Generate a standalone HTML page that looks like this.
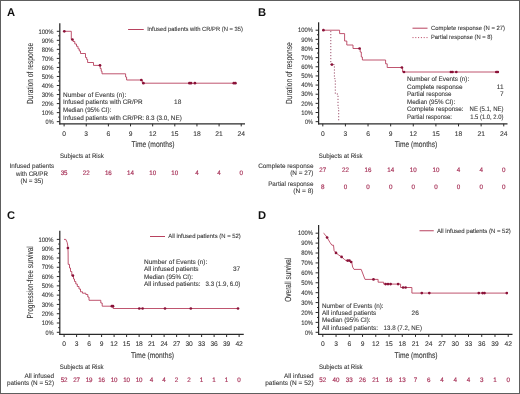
<!DOCTYPE html>
<html><head><meta charset="utf-8"><title>KM curves</title>
<style>
html,body{margin:0;padding:0;background:#fff;}
body{width:520px;height:394px;overflow:hidden;}
svg{display:block;font-family:"Liberation Sans", sans-serif;text-rendering:geometricPrecision;will-change:transform;}
</style></head><body>
<svg width="520" height="394" viewBox="0 0 520 394">
<rect x="0" y="0" width="520" height="394" fill="#fff"/>
<text x="6.90" y="16.00" font-size="11.2" fill="#111" font-weight="bold">A</text>
<line x1="59.80" y1="23.30" x2="59.80" y2="124.40" stroke="#2a2a2a" stroke-width="1.25"/>
<line x1="59.20" y1="123.80" x2="245.00" y2="123.80" stroke="#2a2a2a" stroke-width="1.25"/>
<line x1="56.80" y1="121.65" x2="59.80" y2="121.65" stroke="#2a2a2a" stroke-width="1.0"/>
<text x="53.60" y="123.85" font-size="6.4" fill="#383838" stroke="#383838" stroke-width="0.1" text-anchor="end" textLength="8.00" lengthAdjust="spacingAndGlyphs">0%</text>
<line x1="58.20" y1="117.13" x2="59.80" y2="117.13" stroke="#2a2a2a" stroke-width="1.0"/>
<line x1="56.80" y1="112.62" x2="59.80" y2="112.62" stroke="#2a2a2a" stroke-width="1.0"/>
<text x="53.60" y="114.82" font-size="6.4" fill="#383838" stroke="#383838" stroke-width="0.1" text-anchor="end" textLength="11.80" lengthAdjust="spacingAndGlyphs">10%</text>
<line x1="58.20" y1="108.10" x2="59.80" y2="108.10" stroke="#2a2a2a" stroke-width="1.0"/>
<line x1="56.80" y1="103.58" x2="59.80" y2="103.58" stroke="#2a2a2a" stroke-width="1.0"/>
<text x="53.60" y="105.78" font-size="6.4" fill="#383838" stroke="#383838" stroke-width="0.1" text-anchor="end" textLength="11.80" lengthAdjust="spacingAndGlyphs">20%</text>
<line x1="58.20" y1="99.06" x2="59.80" y2="99.06" stroke="#2a2a2a" stroke-width="1.0"/>
<line x1="56.80" y1="94.55" x2="59.80" y2="94.55" stroke="#2a2a2a" stroke-width="1.0"/>
<text x="53.60" y="96.75" font-size="6.4" fill="#383838" stroke="#383838" stroke-width="0.1" text-anchor="end" textLength="11.80" lengthAdjust="spacingAndGlyphs">30%</text>
<line x1="58.20" y1="90.03" x2="59.80" y2="90.03" stroke="#2a2a2a" stroke-width="1.0"/>
<line x1="56.80" y1="85.51" x2="59.80" y2="85.51" stroke="#2a2a2a" stroke-width="1.0"/>
<text x="53.60" y="87.71" font-size="6.4" fill="#383838" stroke="#383838" stroke-width="0.1" text-anchor="end" textLength="11.80" lengthAdjust="spacingAndGlyphs">40%</text>
<line x1="58.20" y1="80.99" x2="59.80" y2="80.99" stroke="#2a2a2a" stroke-width="1.0"/>
<line x1="56.80" y1="76.48" x2="59.80" y2="76.48" stroke="#2a2a2a" stroke-width="1.0"/>
<text x="53.60" y="78.68" font-size="6.4" fill="#383838" stroke="#383838" stroke-width="0.1" text-anchor="end" textLength="11.80" lengthAdjust="spacingAndGlyphs">50%</text>
<line x1="58.20" y1="71.96" x2="59.80" y2="71.96" stroke="#2a2a2a" stroke-width="1.0"/>
<line x1="56.80" y1="67.44" x2="59.80" y2="67.44" stroke="#2a2a2a" stroke-width="1.0"/>
<text x="53.60" y="69.64" font-size="6.4" fill="#383838" stroke="#383838" stroke-width="0.1" text-anchor="end" textLength="11.80" lengthAdjust="spacingAndGlyphs">60%</text>
<line x1="58.20" y1="62.92" x2="59.80" y2="62.92" stroke="#2a2a2a" stroke-width="1.0"/>
<line x1="56.80" y1="58.41" x2="59.80" y2="58.41" stroke="#2a2a2a" stroke-width="1.0"/>
<text x="53.60" y="60.61" font-size="6.4" fill="#383838" stroke="#383838" stroke-width="0.1" text-anchor="end" textLength="11.80" lengthAdjust="spacingAndGlyphs">70%</text>
<line x1="58.20" y1="53.89" x2="59.80" y2="53.89" stroke="#2a2a2a" stroke-width="1.0"/>
<line x1="56.80" y1="49.37" x2="59.80" y2="49.37" stroke="#2a2a2a" stroke-width="1.0"/>
<text x="53.60" y="51.57" font-size="6.4" fill="#383838" stroke="#383838" stroke-width="0.1" text-anchor="end" textLength="11.80" lengthAdjust="spacingAndGlyphs">80%</text>
<line x1="58.20" y1="44.85" x2="59.80" y2="44.85" stroke="#2a2a2a" stroke-width="1.0"/>
<line x1="56.80" y1="40.34" x2="59.80" y2="40.34" stroke="#2a2a2a" stroke-width="1.0"/>
<text x="53.60" y="42.54" font-size="6.4" fill="#383838" stroke="#383838" stroke-width="0.1" text-anchor="end" textLength="11.80" lengthAdjust="spacingAndGlyphs">90%</text>
<line x1="58.20" y1="35.82" x2="59.80" y2="35.82" stroke="#2a2a2a" stroke-width="1.0"/>
<line x1="56.80" y1="31.30" x2="59.80" y2="31.30" stroke="#2a2a2a" stroke-width="1.0"/>
<text x="53.60" y="33.50" font-size="6.4" fill="#383838" stroke="#383838" stroke-width="0.1" text-anchor="end" textLength="15.00" lengthAdjust="spacingAndGlyphs">100%</text>
<line x1="64.10" y1="123.80" x2="64.10" y2="126.40" stroke="#2a2a2a" stroke-width="1.0"/>
<text x="64.10" y="135.70" font-size="6.7" fill="#383838" stroke="#383838" stroke-width="0.1" text-anchor="middle">0</text>
<line x1="86.24" y1="123.80" x2="86.24" y2="126.40" stroke="#2a2a2a" stroke-width="1.0"/>
<text x="86.24" y="135.70" font-size="6.7" fill="#383838" stroke="#383838" stroke-width="0.1" text-anchor="middle">3</text>
<line x1="108.38" y1="123.80" x2="108.38" y2="126.40" stroke="#2a2a2a" stroke-width="1.0"/>
<text x="108.38" y="135.70" font-size="6.7" fill="#383838" stroke="#383838" stroke-width="0.1" text-anchor="middle">6</text>
<line x1="130.52" y1="123.80" x2="130.52" y2="126.40" stroke="#2a2a2a" stroke-width="1.0"/>
<text x="130.52" y="135.70" font-size="6.7" fill="#383838" stroke="#383838" stroke-width="0.1" text-anchor="middle">9</text>
<line x1="152.66" y1="123.80" x2="152.66" y2="126.40" stroke="#2a2a2a" stroke-width="1.0"/>
<text x="152.66" y="135.70" font-size="6.7" fill="#383838" stroke="#383838" stroke-width="0.1" text-anchor="middle">12</text>
<line x1="174.80" y1="123.80" x2="174.80" y2="126.40" stroke="#2a2a2a" stroke-width="1.0"/>
<text x="174.80" y="135.70" font-size="6.7" fill="#383838" stroke="#383838" stroke-width="0.1" text-anchor="middle">15</text>
<line x1="196.94" y1="123.80" x2="196.94" y2="126.40" stroke="#2a2a2a" stroke-width="1.0"/>
<text x="196.94" y="135.70" font-size="6.7" fill="#383838" stroke="#383838" stroke-width="0.1" text-anchor="middle">18</text>
<line x1="219.08" y1="123.80" x2="219.08" y2="126.40" stroke="#2a2a2a" stroke-width="1.0"/>
<text x="219.08" y="135.70" font-size="6.7" fill="#383838" stroke="#383838" stroke-width="0.1" text-anchor="middle">21</text>
<line x1="241.22" y1="123.80" x2="241.22" y2="126.40" stroke="#2a2a2a" stroke-width="1.0"/>
<text x="241.22" y="135.70" font-size="6.7" fill="#383838" stroke="#383838" stroke-width="0.1" text-anchor="middle">24</text>
<text x="131.60" y="146.60" font-size="8.2" fill="#383838" stroke="#383838" stroke-width="0.12" textLength="42.90" lengthAdjust="spacingAndGlyphs">Time (months)</text>
<text x="33.20" y="73.30" font-size="8.8" fill="#383838" stroke="#383838" stroke-width="0.1" text-anchor="middle" textLength="61.20" lengthAdjust="spacingAndGlyphs" transform="rotate(-90 33.20 73.30)">Duration of response</text>
<line x1="128.10" y1="29.50" x2="143.75" y2="29.50" stroke="#b8425f" stroke-width="1.0"/>
<text x="147.25" y="31.40" font-size="6.0" fill="#383838" stroke="#383838" stroke-width="0.1" textLength="95.75" lengthAdjust="spacingAndGlyphs">Infused patients with CR/PR (N = 35)</text>
<text x="63.00" y="96.80" font-size="6.5" fill="#383838" stroke="#383838" stroke-width="0.1" textLength="63.25" lengthAdjust="spacingAndGlyphs">Number of Events (n):</text>
<text x="63.00" y="104.40" font-size="6.5" fill="#383838" stroke="#383838" stroke-width="0.1" textLength="79.50" lengthAdjust="spacingAndGlyphs">Infused patients with CR/PR</text>
<text x="63.00" y="112.00" font-size="6.5" fill="#383838" stroke="#383838" stroke-width="0.1" textLength="48.25" lengthAdjust="spacingAndGlyphs">Median (95% CI):</text>
<text x="63.00" y="119.60" font-size="6.5" fill="#383838" stroke="#383838" stroke-width="0.1" textLength="118.75" lengthAdjust="spacingAndGlyphs">Infused patients with CR/PR: 8.3 (3.0, NE)</text>
<text x="181.30" y="104.40" font-size="6.5" fill="#383838" stroke="#383838" stroke-width="0.1" text-anchor="end">18</text>
<text x="60.00" y="157.75" font-size="6.5" fill="#383838" stroke="#383838" stroke-width="0.1" textLength="43.75" lengthAdjust="spacingAndGlyphs">Subjects at Risk</text>
<text x="31.90" y="168.10" font-size="6.5" fill="#383838" stroke="#383838" stroke-width="0.1" text-anchor="middle" textLength="44.70" lengthAdjust="spacingAndGlyphs">Infused patients</text>
<text x="31.90" y="175.60" font-size="6.5" fill="#383838" stroke="#383838" stroke-width="0.1" text-anchor="middle" textLength="31.90" lengthAdjust="spacingAndGlyphs">with CR/PR</text>
<text x="31.90" y="182.60" font-size="6.5" fill="#383838" stroke="#383838" stroke-width="0.1" text-anchor="middle" textLength="22.90" lengthAdjust="spacingAndGlyphs">(N = 35)</text>
<text x="64.10" y="175.40" font-size="6.4" fill="#a8345a" stroke="#a8345a" stroke-width="0.18" text-anchor="middle" textLength="6.90" lengthAdjust="spacingAndGlyphs">35</text>
<text x="86.24" y="175.40" font-size="6.4" fill="#a8345a" stroke="#a8345a" stroke-width="0.18" text-anchor="middle" textLength="6.90" lengthAdjust="spacingAndGlyphs">22</text>
<text x="108.38" y="175.40" font-size="6.4" fill="#a8345a" stroke="#a8345a" stroke-width="0.18" text-anchor="middle" textLength="6.90" lengthAdjust="spacingAndGlyphs">16</text>
<text x="130.52" y="175.40" font-size="6.4" fill="#a8345a" stroke="#a8345a" stroke-width="0.18" text-anchor="middle" textLength="6.90" lengthAdjust="spacingAndGlyphs">14</text>
<text x="152.66" y="175.40" font-size="6.4" fill="#a8345a" stroke="#a8345a" stroke-width="0.18" text-anchor="middle" textLength="6.90" lengthAdjust="spacingAndGlyphs">10</text>
<text x="174.80" y="175.40" font-size="6.4" fill="#a8345a" stroke="#a8345a" stroke-width="0.18" text-anchor="middle" textLength="6.90" lengthAdjust="spacingAndGlyphs">10</text>
<text x="196.94" y="175.40" font-size="6.4" fill="#a8345a" stroke="#a8345a" stroke-width="0.18" text-anchor="middle" textLength="3.50" lengthAdjust="spacingAndGlyphs">4</text>
<text x="219.08" y="175.40" font-size="6.4" fill="#a8345a" stroke="#a8345a" stroke-width="0.18" text-anchor="middle" textLength="3.50" lengthAdjust="spacingAndGlyphs">4</text>
<text x="241.22" y="175.40" font-size="6.4" fill="#a8345a" stroke="#a8345a" stroke-width="0.18" text-anchor="middle" textLength="3.50" lengthAdjust="spacingAndGlyphs">0</text>
<path d="M64.1,31.3 H71.3 V39.5 H73 V41.5 H74.8 V44 H76.5 V46.3 H78 V48.8 H79.3 V51 H80.5 V53.5 H85.5 V57.5 H86.7 V59.5 H87.6 V62.5 H93.5 V65.4 H100.2 V68.5 H101.2 V71.2 H102 V73.8 H125.6 V77 H126.6 V80 H142.3 V83.2 H236" fill="none" stroke="#b8425f" stroke-width="0.9"/>
<circle cx="64.30" cy="31.30" r="1.35" fill="#8a1238"/>
<circle cx="72.40" cy="39.50" r="1.35" fill="#8a1238"/>
<circle cx="100.00" cy="65.30" r="1.35" fill="#8a1238"/>
<circle cx="141.30" cy="80.00" r="1.35" fill="#8a1238"/>
<circle cx="143.40" cy="83.20" r="1.35" fill="#8a1238"/>
<circle cx="189.40" cy="83.20" r="1.35" fill="#8a1238"/>
<circle cx="191.00" cy="83.20" r="1.35" fill="#8a1238"/>
<circle cx="194.90" cy="83.20" r="1.35" fill="#8a1238"/>
<circle cx="233.80" cy="83.20" r="1.35" fill="#8a1238"/>
<circle cx="235.40" cy="83.20" r="1.35" fill="#8a1238"/>
<text x="257.90" y="16.00" font-size="11.2" fill="#111" font-weight="bold">B</text>
<line x1="318.60" y1="22.30" x2="318.60" y2="124.40" stroke="#2a2a2a" stroke-width="1.25"/>
<line x1="318.00" y1="123.80" x2="507.50" y2="123.80" stroke="#2a2a2a" stroke-width="1.25"/>
<line x1="315.60" y1="121.65" x2="318.60" y2="121.65" stroke="#2a2a2a" stroke-width="1.0"/>
<text x="313.00" y="123.85" font-size="6.4" fill="#383838" stroke="#383838" stroke-width="0.1" text-anchor="end" textLength="8.00" lengthAdjust="spacingAndGlyphs">0%</text>
<line x1="317.00" y1="117.08" x2="318.60" y2="117.08" stroke="#2a2a2a" stroke-width="1.0"/>
<line x1="315.60" y1="112.51" x2="318.60" y2="112.51" stroke="#2a2a2a" stroke-width="1.0"/>
<text x="313.00" y="114.71" font-size="6.4" fill="#383838" stroke="#383838" stroke-width="0.1" text-anchor="end" textLength="11.80" lengthAdjust="spacingAndGlyphs">10%</text>
<line x1="317.00" y1="107.93" x2="318.60" y2="107.93" stroke="#2a2a2a" stroke-width="1.0"/>
<line x1="315.60" y1="103.36" x2="318.60" y2="103.36" stroke="#2a2a2a" stroke-width="1.0"/>
<text x="313.00" y="105.56" font-size="6.4" fill="#383838" stroke="#383838" stroke-width="0.1" text-anchor="end" textLength="11.80" lengthAdjust="spacingAndGlyphs">20%</text>
<line x1="317.00" y1="98.79" x2="318.60" y2="98.79" stroke="#2a2a2a" stroke-width="1.0"/>
<line x1="315.60" y1="94.22" x2="318.60" y2="94.22" stroke="#2a2a2a" stroke-width="1.0"/>
<text x="313.00" y="96.42" font-size="6.4" fill="#383838" stroke="#383838" stroke-width="0.1" text-anchor="end" textLength="11.80" lengthAdjust="spacingAndGlyphs">30%</text>
<line x1="317.00" y1="89.64" x2="318.60" y2="89.64" stroke="#2a2a2a" stroke-width="1.0"/>
<line x1="315.60" y1="85.07" x2="318.60" y2="85.07" stroke="#2a2a2a" stroke-width="1.0"/>
<text x="313.00" y="87.27" font-size="6.4" fill="#383838" stroke="#383838" stroke-width="0.1" text-anchor="end" textLength="11.80" lengthAdjust="spacingAndGlyphs">40%</text>
<line x1="317.00" y1="80.50" x2="318.60" y2="80.50" stroke="#2a2a2a" stroke-width="1.0"/>
<line x1="315.60" y1="75.93" x2="318.60" y2="75.93" stroke="#2a2a2a" stroke-width="1.0"/>
<text x="313.00" y="78.13" font-size="6.4" fill="#383838" stroke="#383838" stroke-width="0.1" text-anchor="end" textLength="11.80" lengthAdjust="spacingAndGlyphs">50%</text>
<line x1="317.00" y1="71.35" x2="318.60" y2="71.35" stroke="#2a2a2a" stroke-width="1.0"/>
<line x1="315.60" y1="66.78" x2="318.60" y2="66.78" stroke="#2a2a2a" stroke-width="1.0"/>
<text x="313.00" y="68.98" font-size="6.4" fill="#383838" stroke="#383838" stroke-width="0.1" text-anchor="end" textLength="11.80" lengthAdjust="spacingAndGlyphs">60%</text>
<line x1="317.00" y1="62.21" x2="318.60" y2="62.21" stroke="#2a2a2a" stroke-width="1.0"/>
<line x1="315.60" y1="57.64" x2="318.60" y2="57.64" stroke="#2a2a2a" stroke-width="1.0"/>
<text x="313.00" y="59.84" font-size="6.4" fill="#383838" stroke="#383838" stroke-width="0.1" text-anchor="end" textLength="11.80" lengthAdjust="spacingAndGlyphs">70%</text>
<line x1="317.00" y1="53.06" x2="318.60" y2="53.06" stroke="#2a2a2a" stroke-width="1.0"/>
<line x1="315.60" y1="48.49" x2="318.60" y2="48.49" stroke="#2a2a2a" stroke-width="1.0"/>
<text x="313.00" y="50.69" font-size="6.4" fill="#383838" stroke="#383838" stroke-width="0.1" text-anchor="end" textLength="11.80" lengthAdjust="spacingAndGlyphs">80%</text>
<line x1="317.00" y1="43.92" x2="318.60" y2="43.92" stroke="#2a2a2a" stroke-width="1.0"/>
<line x1="315.60" y1="39.35" x2="318.60" y2="39.35" stroke="#2a2a2a" stroke-width="1.0"/>
<text x="313.00" y="41.55" font-size="6.4" fill="#383838" stroke="#383838" stroke-width="0.1" text-anchor="end" textLength="11.80" lengthAdjust="spacingAndGlyphs">90%</text>
<line x1="317.00" y1="34.77" x2="318.60" y2="34.77" stroke="#2a2a2a" stroke-width="1.0"/>
<line x1="315.60" y1="30.20" x2="318.60" y2="30.20" stroke="#2a2a2a" stroke-width="1.0"/>
<text x="313.00" y="32.40" font-size="6.4" fill="#383838" stroke="#383838" stroke-width="0.1" text-anchor="end" textLength="15.00" lengthAdjust="spacingAndGlyphs">100%</text>
<line x1="322.80" y1="123.80" x2="322.80" y2="126.40" stroke="#2a2a2a" stroke-width="1.0"/>
<text x="322.80" y="135.70" font-size="6.7" fill="#383838" stroke="#383838" stroke-width="0.1" text-anchor="middle">0</text>
<line x1="345.42" y1="123.80" x2="345.42" y2="126.40" stroke="#2a2a2a" stroke-width="1.0"/>
<text x="345.42" y="135.70" font-size="6.7" fill="#383838" stroke="#383838" stroke-width="0.1" text-anchor="middle">3</text>
<line x1="368.04" y1="123.80" x2="368.04" y2="126.40" stroke="#2a2a2a" stroke-width="1.0"/>
<text x="368.04" y="135.70" font-size="6.7" fill="#383838" stroke="#383838" stroke-width="0.1" text-anchor="middle">6</text>
<line x1="390.66" y1="123.80" x2="390.66" y2="126.40" stroke="#2a2a2a" stroke-width="1.0"/>
<text x="390.66" y="135.70" font-size="6.7" fill="#383838" stroke="#383838" stroke-width="0.1" text-anchor="middle">9</text>
<line x1="413.28" y1="123.80" x2="413.28" y2="126.40" stroke="#2a2a2a" stroke-width="1.0"/>
<text x="413.28" y="135.70" font-size="6.7" fill="#383838" stroke="#383838" stroke-width="0.1" text-anchor="middle">12</text>
<line x1="435.90" y1="123.80" x2="435.90" y2="126.40" stroke="#2a2a2a" stroke-width="1.0"/>
<text x="435.90" y="135.70" font-size="6.7" fill="#383838" stroke="#383838" stroke-width="0.1" text-anchor="middle">15</text>
<line x1="458.52" y1="123.80" x2="458.52" y2="126.40" stroke="#2a2a2a" stroke-width="1.0"/>
<text x="458.52" y="135.70" font-size="6.7" fill="#383838" stroke="#383838" stroke-width="0.1" text-anchor="middle">18</text>
<line x1="481.14" y1="123.80" x2="481.14" y2="126.40" stroke="#2a2a2a" stroke-width="1.0"/>
<text x="481.14" y="135.70" font-size="6.7" fill="#383838" stroke="#383838" stroke-width="0.1" text-anchor="middle">21</text>
<line x1="503.76" y1="123.80" x2="503.76" y2="126.40" stroke="#2a2a2a" stroke-width="1.0"/>
<text x="503.76" y="135.70" font-size="6.7" fill="#383838" stroke="#383838" stroke-width="0.1" text-anchor="middle">24</text>
<text x="394.80" y="146.60" font-size="8.2" fill="#383838" stroke="#383838" stroke-width="0.12" textLength="42.40" lengthAdjust="spacingAndGlyphs">Time (months)</text>
<text x="291.70" y="73.10" font-size="8.8" fill="#383838" stroke="#383838" stroke-width="0.1" text-anchor="middle" textLength="61.80" lengthAdjust="spacingAndGlyphs" transform="rotate(-90 291.70 73.10)">Duration of response</text>
<line x1="412.50" y1="28.20" x2="427.50" y2="28.20" stroke="#b8425f" stroke-width="1.0"/>
<text x="431.00" y="30.20" font-size="6.0" fill="#383838" stroke="#383838" stroke-width="0.1" textLength="74.00" lengthAdjust="spacingAndGlyphs">Complete response (N = 27)</text>
<line x1="412.50" y1="37.60" x2="427.60" y2="37.60" stroke="#b8425f" stroke-width="1.0" stroke-dasharray="1.0,1.8"/>
<text x="431.00" y="39.40" font-size="6.0" fill="#383838" stroke="#383838" stroke-width="0.1" textLength="61.50" lengthAdjust="spacingAndGlyphs">Partial response (N = 8)</text>
<text x="407.00" y="81.10" font-size="6.5" fill="#383838" stroke="#383838" stroke-width="0.1" textLength="62.20" lengthAdjust="spacingAndGlyphs">Number of Events (n):</text>
<text x="407.00" y="88.60" font-size="6.5" fill="#383838" stroke="#383838" stroke-width="0.1" textLength="55.60" lengthAdjust="spacingAndGlyphs">Complete response</text>
<text x="407.00" y="96.10" font-size="6.5" fill="#383838" stroke="#383838" stroke-width="0.1" textLength="44.50" lengthAdjust="spacingAndGlyphs">Partial response</text>
<text x="407.00" y="103.60" font-size="6.5" fill="#383838" stroke="#383838" stroke-width="0.1" textLength="48.10" lengthAdjust="spacingAndGlyphs">Median (95% CI):</text>
<text x="407.00" y="111.10" font-size="6.5" fill="#383838" stroke="#383838" stroke-width="0.1" textLength="56.60" lengthAdjust="spacingAndGlyphs">Complete response:</text>
<text x="407.00" y="118.50" font-size="6.5" fill="#383838" stroke="#383838" stroke-width="0.1" textLength="45.00" lengthAdjust="spacingAndGlyphs">Partial response:</text>
<text x="503.60" y="88.60" font-size="6.5" fill="#383838" stroke="#383838" stroke-width="0.1" text-anchor="end">11</text>
<text x="503.60" y="96.10" font-size="6.5" fill="#383838" stroke="#383838" stroke-width="0.1" text-anchor="end">7</text>
<text x="469.60" y="111.10" font-size="6.5" fill="#383838" stroke="#383838" stroke-width="0.1" textLength="33.90" lengthAdjust="spacingAndGlyphs">NE (5.1, NE)</text>
<text x="470.20" y="118.50" font-size="6.5" fill="#383838" stroke="#383838" stroke-width="0.1" textLength="33.30" lengthAdjust="spacingAndGlyphs">1.5 (1.0, 2.0)</text>
<text x="318.75" y="157.75" font-size="6.5" fill="#383838" stroke="#383838" stroke-width="0.1" textLength="43.75" lengthAdjust="spacingAndGlyphs">Subjects at Risk</text>
<text x="313.50" y="167.70" font-size="6.5" fill="#383838" stroke="#383838" stroke-width="0.1" text-anchor="end" textLength="55.30" lengthAdjust="spacingAndGlyphs">Complete response</text>
<text x="313.50" y="175.20" font-size="6.5" fill="#383838" stroke="#383838" stroke-width="0.1" text-anchor="end" textLength="23.30" lengthAdjust="spacingAndGlyphs">(N = 27)</text>
<text x="313.50" y="185.60" font-size="6.5" fill="#383838" stroke="#383838" stroke-width="0.1" text-anchor="end" textLength="45.30" lengthAdjust="spacingAndGlyphs">Partial response</text>
<text x="313.50" y="192.60" font-size="6.5" fill="#383838" stroke="#383838" stroke-width="0.1" text-anchor="end" textLength="20.30" lengthAdjust="spacingAndGlyphs">(N = 8)</text>
<text x="322.80" y="171.90" font-size="6.4" fill="#a8345a" stroke="#a8345a" stroke-width="0.18" text-anchor="middle" textLength="6.90" lengthAdjust="spacingAndGlyphs">27</text>
<text x="345.42" y="171.90" font-size="6.4" fill="#a8345a" stroke="#a8345a" stroke-width="0.18" text-anchor="middle" textLength="6.90" lengthAdjust="spacingAndGlyphs">22</text>
<text x="368.04" y="171.90" font-size="6.4" fill="#a8345a" stroke="#a8345a" stroke-width="0.18" text-anchor="middle" textLength="6.90" lengthAdjust="spacingAndGlyphs">16</text>
<text x="390.66" y="171.90" font-size="6.4" fill="#a8345a" stroke="#a8345a" stroke-width="0.18" text-anchor="middle" textLength="6.90" lengthAdjust="spacingAndGlyphs">14</text>
<text x="413.28" y="171.90" font-size="6.4" fill="#a8345a" stroke="#a8345a" stroke-width="0.18" text-anchor="middle" textLength="6.90" lengthAdjust="spacingAndGlyphs">10</text>
<text x="435.90" y="171.90" font-size="6.4" fill="#a8345a" stroke="#a8345a" stroke-width="0.18" text-anchor="middle" textLength="6.90" lengthAdjust="spacingAndGlyphs">10</text>
<text x="458.52" y="171.90" font-size="6.4" fill="#a8345a" stroke="#a8345a" stroke-width="0.18" text-anchor="middle" textLength="3.50" lengthAdjust="spacingAndGlyphs">4</text>
<text x="481.14" y="171.90" font-size="6.4" fill="#a8345a" stroke="#a8345a" stroke-width="0.18" text-anchor="middle" textLength="3.50" lengthAdjust="spacingAndGlyphs">4</text>
<text x="503.76" y="171.90" font-size="6.4" fill="#a8345a" stroke="#a8345a" stroke-width="0.18" text-anchor="middle" textLength="3.50" lengthAdjust="spacingAndGlyphs">0</text>
<text x="322.80" y="189.40" font-size="6.4" fill="#a8345a" stroke="#a8345a" stroke-width="0.18" text-anchor="middle" textLength="3.50" lengthAdjust="spacingAndGlyphs">8</text>
<text x="345.42" y="189.40" font-size="6.4" fill="#a8345a" stroke="#a8345a" stroke-width="0.18" text-anchor="middle" textLength="3.50" lengthAdjust="spacingAndGlyphs">0</text>
<text x="368.04" y="189.40" font-size="6.4" fill="#a8345a" stroke="#a8345a" stroke-width="0.18" text-anchor="middle" textLength="3.50" lengthAdjust="spacingAndGlyphs">0</text>
<text x="390.66" y="189.40" font-size="6.4" fill="#a8345a" stroke="#a8345a" stroke-width="0.18" text-anchor="middle" textLength="3.50" lengthAdjust="spacingAndGlyphs">0</text>
<text x="413.28" y="189.40" font-size="6.4" fill="#a8345a" stroke="#a8345a" stroke-width="0.18" text-anchor="middle" textLength="3.50" lengthAdjust="spacingAndGlyphs">0</text>
<text x="435.90" y="189.40" font-size="6.4" fill="#a8345a" stroke="#a8345a" stroke-width="0.18" text-anchor="middle" textLength="3.50" lengthAdjust="spacingAndGlyphs">0</text>
<text x="458.52" y="189.40" font-size="6.4" fill="#a8345a" stroke="#a8345a" stroke-width="0.18" text-anchor="middle" textLength="3.50" lengthAdjust="spacingAndGlyphs">0</text>
<text x="481.14" y="189.40" font-size="6.4" fill="#a8345a" stroke="#a8345a" stroke-width="0.18" text-anchor="middle" textLength="3.50" lengthAdjust="spacingAndGlyphs">0</text>
<text x="503.76" y="189.40" font-size="6.4" fill="#a8345a" stroke="#a8345a" stroke-width="0.18" text-anchor="middle" textLength="3.50" lengthAdjust="spacingAndGlyphs">0</text>
<path d="M323.3,30.2 H339.6 V33.6 H344.6 V41 H346.8 V45 H353 V48.5 H360.2 V52 H361.3 V57 H362.4 V60 H385.6 V63.8 H387.2 V67.5 H402.6 V72 H499" fill="none" stroke="#b8425f" stroke-width="0.9"/>
<path d="M330.8,31.0 V64.6 H334.4 V78.6 H335.3 V94 H338 V108 H338.7 V121.6" fill="none" stroke="#93405e" stroke-width="0.9" stroke-dasharray="1.2,1.8"/>
<circle cx="323.40" cy="30.20" r="1.35" fill="#8a1238"/>
<circle cx="359.60" cy="48.50" r="1.35" fill="#8a1238"/>
<circle cx="331.90" cy="64.60" r="1.35" fill="#8a1238"/>
<circle cx="401.90" cy="67.50" r="1.35" fill="#8a1238"/>
<circle cx="404.00" cy="72.00" r="1.35" fill="#8a1238"/>
<circle cx="450.90" cy="72.00" r="1.35" fill="#8a1238"/>
<circle cx="452.50" cy="72.00" r="1.35" fill="#8a1238"/>
<circle cx="456.30" cy="72.00" r="1.35" fill="#8a1238"/>
<circle cx="496.30" cy="72.00" r="1.35" fill="#8a1238"/>
<circle cx="497.80" cy="72.00" r="1.35" fill="#8a1238"/>
<text x="6.90" y="219.20" font-size="11.2" fill="#111" font-weight="bold">C</text>
<line x1="59.80" y1="230.80" x2="59.80" y2="335.00" stroke="#2a2a2a" stroke-width="1.25"/>
<line x1="59.20" y1="334.40" x2="243.75" y2="334.40" stroke="#2a2a2a" stroke-width="1.25"/>
<line x1="56.80" y1="332.30" x2="59.80" y2="332.30" stroke="#2a2a2a" stroke-width="1.0"/>
<text x="53.60" y="334.50" font-size="6.4" fill="#383838" stroke="#383838" stroke-width="0.1" text-anchor="end" textLength="8.00" lengthAdjust="spacingAndGlyphs">0%</text>
<line x1="58.20" y1="327.66" x2="59.80" y2="327.66" stroke="#2a2a2a" stroke-width="1.0"/>
<line x1="56.80" y1="323.01" x2="59.80" y2="323.01" stroke="#2a2a2a" stroke-width="1.0"/>
<text x="53.60" y="325.21" font-size="6.4" fill="#383838" stroke="#383838" stroke-width="0.1" text-anchor="end" textLength="11.80" lengthAdjust="spacingAndGlyphs">10%</text>
<line x1="58.20" y1="318.37" x2="59.80" y2="318.37" stroke="#2a2a2a" stroke-width="1.0"/>
<line x1="56.80" y1="313.72" x2="59.80" y2="313.72" stroke="#2a2a2a" stroke-width="1.0"/>
<text x="53.60" y="315.92" font-size="6.4" fill="#383838" stroke="#383838" stroke-width="0.1" text-anchor="end" textLength="11.80" lengthAdjust="spacingAndGlyphs">20%</text>
<line x1="58.20" y1="309.07" x2="59.80" y2="309.07" stroke="#2a2a2a" stroke-width="1.0"/>
<line x1="56.80" y1="304.43" x2="59.80" y2="304.43" stroke="#2a2a2a" stroke-width="1.0"/>
<text x="53.60" y="306.63" font-size="6.4" fill="#383838" stroke="#383838" stroke-width="0.1" text-anchor="end" textLength="11.80" lengthAdjust="spacingAndGlyphs">30%</text>
<line x1="58.20" y1="299.79" x2="59.80" y2="299.79" stroke="#2a2a2a" stroke-width="1.0"/>
<line x1="56.80" y1="295.14" x2="59.80" y2="295.14" stroke="#2a2a2a" stroke-width="1.0"/>
<text x="53.60" y="297.34" font-size="6.4" fill="#383838" stroke="#383838" stroke-width="0.1" text-anchor="end" textLength="11.80" lengthAdjust="spacingAndGlyphs">40%</text>
<line x1="58.20" y1="290.50" x2="59.80" y2="290.50" stroke="#2a2a2a" stroke-width="1.0"/>
<line x1="56.80" y1="285.85" x2="59.80" y2="285.85" stroke="#2a2a2a" stroke-width="1.0"/>
<text x="53.60" y="288.05" font-size="6.4" fill="#383838" stroke="#383838" stroke-width="0.1" text-anchor="end" textLength="11.80" lengthAdjust="spacingAndGlyphs">50%</text>
<line x1="58.20" y1="281.20" x2="59.80" y2="281.20" stroke="#2a2a2a" stroke-width="1.0"/>
<line x1="56.80" y1="276.56" x2="59.80" y2="276.56" stroke="#2a2a2a" stroke-width="1.0"/>
<text x="53.60" y="278.76" font-size="6.4" fill="#383838" stroke="#383838" stroke-width="0.1" text-anchor="end" textLength="11.80" lengthAdjust="spacingAndGlyphs">60%</text>
<line x1="58.20" y1="271.92" x2="59.80" y2="271.92" stroke="#2a2a2a" stroke-width="1.0"/>
<line x1="56.80" y1="267.27" x2="59.80" y2="267.27" stroke="#2a2a2a" stroke-width="1.0"/>
<text x="53.60" y="269.47" font-size="6.4" fill="#383838" stroke="#383838" stroke-width="0.1" text-anchor="end" textLength="11.80" lengthAdjust="spacingAndGlyphs">70%</text>
<line x1="58.20" y1="262.62" x2="59.80" y2="262.62" stroke="#2a2a2a" stroke-width="1.0"/>
<line x1="56.80" y1="257.98" x2="59.80" y2="257.98" stroke="#2a2a2a" stroke-width="1.0"/>
<text x="53.60" y="260.18" font-size="6.4" fill="#383838" stroke="#383838" stroke-width="0.1" text-anchor="end" textLength="11.80" lengthAdjust="spacingAndGlyphs">80%</text>
<line x1="58.20" y1="253.34" x2="59.80" y2="253.34" stroke="#2a2a2a" stroke-width="1.0"/>
<line x1="56.80" y1="248.69" x2="59.80" y2="248.69" stroke="#2a2a2a" stroke-width="1.0"/>
<text x="53.60" y="250.89" font-size="6.4" fill="#383838" stroke="#383838" stroke-width="0.1" text-anchor="end" textLength="11.80" lengthAdjust="spacingAndGlyphs">90%</text>
<line x1="58.20" y1="244.05" x2="59.80" y2="244.05" stroke="#2a2a2a" stroke-width="1.0"/>
<line x1="56.80" y1="239.40" x2="59.80" y2="239.40" stroke="#2a2a2a" stroke-width="1.0"/>
<text x="53.60" y="241.60" font-size="6.4" fill="#383838" stroke="#383838" stroke-width="0.1" text-anchor="end" textLength="15.00" lengthAdjust="spacingAndGlyphs">100%</text>
<line x1="64.10" y1="334.40" x2="64.10" y2="337.00" stroke="#2a2a2a" stroke-width="1.0"/>
<text x="64.10" y="346.00" font-size="6.7" fill="#383838" stroke="#383838" stroke-width="0.1" text-anchor="middle">0</text>
<line x1="76.60" y1="334.40" x2="76.60" y2="337.00" stroke="#2a2a2a" stroke-width="1.0"/>
<text x="76.60" y="346.00" font-size="6.7" fill="#383838" stroke="#383838" stroke-width="0.1" text-anchor="middle">3</text>
<line x1="89.10" y1="334.40" x2="89.10" y2="337.00" stroke="#2a2a2a" stroke-width="1.0"/>
<text x="89.10" y="346.00" font-size="6.7" fill="#383838" stroke="#383838" stroke-width="0.1" text-anchor="middle">6</text>
<line x1="101.60" y1="334.40" x2="101.60" y2="337.00" stroke="#2a2a2a" stroke-width="1.0"/>
<text x="101.60" y="346.00" font-size="6.7" fill="#383838" stroke="#383838" stroke-width="0.1" text-anchor="middle">9</text>
<line x1="114.10" y1="334.40" x2="114.10" y2="337.00" stroke="#2a2a2a" stroke-width="1.0"/>
<text x="114.10" y="346.00" font-size="6.7" fill="#383838" stroke="#383838" stroke-width="0.1" text-anchor="middle">12</text>
<line x1="126.60" y1="334.40" x2="126.60" y2="337.00" stroke="#2a2a2a" stroke-width="1.0"/>
<text x="126.60" y="346.00" font-size="6.7" fill="#383838" stroke="#383838" stroke-width="0.1" text-anchor="middle">15</text>
<line x1="139.11" y1="334.40" x2="139.11" y2="337.00" stroke="#2a2a2a" stroke-width="1.0"/>
<text x="139.11" y="346.00" font-size="6.7" fill="#383838" stroke="#383838" stroke-width="0.1" text-anchor="middle">18</text>
<line x1="151.61" y1="334.40" x2="151.61" y2="337.00" stroke="#2a2a2a" stroke-width="1.0"/>
<text x="151.61" y="346.00" font-size="6.7" fill="#383838" stroke="#383838" stroke-width="0.1" text-anchor="middle">21</text>
<line x1="164.11" y1="334.40" x2="164.11" y2="337.00" stroke="#2a2a2a" stroke-width="1.0"/>
<text x="164.11" y="346.00" font-size="6.7" fill="#383838" stroke="#383838" stroke-width="0.1" text-anchor="middle">24</text>
<line x1="176.61" y1="334.40" x2="176.61" y2="337.00" stroke="#2a2a2a" stroke-width="1.0"/>
<text x="176.61" y="346.00" font-size="6.7" fill="#383838" stroke="#383838" stroke-width="0.1" text-anchor="middle">27</text>
<line x1="189.11" y1="334.40" x2="189.11" y2="337.00" stroke="#2a2a2a" stroke-width="1.0"/>
<text x="189.11" y="346.00" font-size="6.7" fill="#383838" stroke="#383838" stroke-width="0.1" text-anchor="middle">30</text>
<line x1="201.61" y1="334.40" x2="201.61" y2="337.00" stroke="#2a2a2a" stroke-width="1.0"/>
<text x="201.61" y="346.00" font-size="6.7" fill="#383838" stroke="#383838" stroke-width="0.1" text-anchor="middle">33</text>
<line x1="214.11" y1="334.40" x2="214.11" y2="337.00" stroke="#2a2a2a" stroke-width="1.0"/>
<text x="214.11" y="346.00" font-size="6.7" fill="#383838" stroke="#383838" stroke-width="0.1" text-anchor="middle">36</text>
<line x1="226.61" y1="334.40" x2="226.61" y2="337.00" stroke="#2a2a2a" stroke-width="1.0"/>
<text x="226.61" y="346.00" font-size="6.7" fill="#383838" stroke="#383838" stroke-width="0.1" text-anchor="middle">39</text>
<line x1="239.11" y1="334.40" x2="239.11" y2="337.00" stroke="#2a2a2a" stroke-width="1.0"/>
<text x="239.11" y="346.00" font-size="6.7" fill="#383838" stroke="#383838" stroke-width="0.1" text-anchor="middle">42</text>
<text x="131.00" y="357.60" font-size="8.2" fill="#383838" stroke="#383838" stroke-width="0.12" textLength="43.00" lengthAdjust="spacingAndGlyphs">Time (months)</text>
<text x="33.20" y="282.30" font-size="8.8" fill="#383838" stroke="#383838" stroke-width="0.1" text-anchor="middle" textLength="72.20" lengthAdjust="spacingAndGlyphs" transform="rotate(-90 33.20 282.30)">Progression-free survival</text>
<line x1="150.00" y1="236.50" x2="165.00" y2="236.50" stroke="#b8425f" stroke-width="1.0"/>
<text x="168.25" y="238.40" font-size="6.0" fill="#383838" stroke="#383838" stroke-width="0.1" textLength="72.50" lengthAdjust="spacingAndGlyphs">All infused patients (N = 52)</text>
<text x="144.00" y="263.70" font-size="6.5" fill="#383838" stroke="#383838" stroke-width="0.1" textLength="63.25" lengthAdjust="spacingAndGlyphs">Number of Events (n):</text>
<text x="144.00" y="271.20" font-size="6.5" fill="#383838" stroke="#383838" stroke-width="0.1" textLength="54.60" lengthAdjust="spacingAndGlyphs">All infused patients</text>
<text x="144.00" y="278.70" font-size="6.5" fill="#383838" stroke="#383838" stroke-width="0.1" textLength="48.90" lengthAdjust="spacingAndGlyphs">Median (95% CI):</text>
<text x="144.00" y="286.30" font-size="6.5" fill="#383838" stroke="#383838" stroke-width="0.1" textLength="56.60" lengthAdjust="spacingAndGlyphs">All infused patients:</text>
<text x="240.20" y="271.20" font-size="6.5" fill="#383838" stroke="#383838" stroke-width="0.1" text-anchor="end">37</text>
<text x="205.60" y="286.30" font-size="6.5" fill="#383838" stroke="#383838" stroke-width="0.1" textLength="34.80" lengthAdjust="spacingAndGlyphs">3.3 (1.9, 6.0)</text>
<text x="59.80" y="369.00" font-size="6.5" fill="#383838" stroke="#383838" stroke-width="0.1" textLength="43.75" lengthAdjust="spacingAndGlyphs">Subjects at Risk</text>
<text x="54.00" y="378.30" font-size="6.5" fill="#383838" stroke="#383838" stroke-width="0.1" text-anchor="end" textLength="29.50" lengthAdjust="spacingAndGlyphs">All infused</text>
<text x="54.00" y="385.30" font-size="6.5" fill="#383838" stroke="#383838" stroke-width="0.1" text-anchor="end" textLength="47.00" lengthAdjust="spacingAndGlyphs">patients (N = 52)</text>
<text x="64.10" y="382.10" font-size="6.4" fill="#a8345a" stroke="#a8345a" stroke-width="0.18" text-anchor="middle" textLength="6.90" lengthAdjust="spacingAndGlyphs">52</text>
<text x="76.60" y="382.10" font-size="6.4" fill="#a8345a" stroke="#a8345a" stroke-width="0.18" text-anchor="middle" textLength="6.90" lengthAdjust="spacingAndGlyphs">27</text>
<text x="89.10" y="382.10" font-size="6.4" fill="#a8345a" stroke="#a8345a" stroke-width="0.18" text-anchor="middle" textLength="6.90" lengthAdjust="spacingAndGlyphs">19</text>
<text x="101.60" y="382.10" font-size="6.4" fill="#a8345a" stroke="#a8345a" stroke-width="0.18" text-anchor="middle" textLength="6.90" lengthAdjust="spacingAndGlyphs">16</text>
<text x="114.10" y="382.10" font-size="6.4" fill="#a8345a" stroke="#a8345a" stroke-width="0.18" text-anchor="middle" textLength="6.90" lengthAdjust="spacingAndGlyphs">10</text>
<text x="126.60" y="382.10" font-size="6.4" fill="#a8345a" stroke="#a8345a" stroke-width="0.18" text-anchor="middle" textLength="6.90" lengthAdjust="spacingAndGlyphs">10</text>
<text x="139.11" y="382.10" font-size="6.4" fill="#a8345a" stroke="#a8345a" stroke-width="0.18" text-anchor="middle" textLength="6.90" lengthAdjust="spacingAndGlyphs">10</text>
<text x="151.61" y="382.10" font-size="6.4" fill="#a8345a" stroke="#a8345a" stroke-width="0.18" text-anchor="middle" textLength="3.50" lengthAdjust="spacingAndGlyphs">4</text>
<text x="164.11" y="382.10" font-size="6.4" fill="#a8345a" stroke="#a8345a" stroke-width="0.18" text-anchor="middle" textLength="3.50" lengthAdjust="spacingAndGlyphs">4</text>
<text x="176.61" y="382.10" font-size="6.4" fill="#a8345a" stroke="#a8345a" stroke-width="0.18" text-anchor="middle" textLength="3.50" lengthAdjust="spacingAndGlyphs">2</text>
<text x="189.11" y="382.10" font-size="6.4" fill="#a8345a" stroke="#a8345a" stroke-width="0.18" text-anchor="middle" textLength="3.50" lengthAdjust="spacingAndGlyphs">2</text>
<text x="201.61" y="382.10" font-size="6.4" fill="#a8345a" stroke="#a8345a" stroke-width="0.18" text-anchor="middle" textLength="3.50" lengthAdjust="spacingAndGlyphs">1</text>
<text x="214.11" y="382.10" font-size="6.4" fill="#a8345a" stroke="#a8345a" stroke-width="0.18" text-anchor="middle" textLength="3.50" lengthAdjust="spacingAndGlyphs">1</text>
<text x="226.61" y="382.10" font-size="6.4" fill="#a8345a" stroke="#a8345a" stroke-width="0.18" text-anchor="middle" textLength="3.50" lengthAdjust="spacingAndGlyphs">1</text>
<text x="239.11" y="382.10" font-size="6.4" fill="#a8345a" stroke="#a8345a" stroke-width="0.18" text-anchor="middle" textLength="3.50" lengthAdjust="spacingAndGlyphs">0</text>
<path d="M64,239.4 H65.8 L67.2,242.5 L67.8,246 L68.1,252 L68.2,264.4 H69.5 V268 H70.5 V271.5 H71.8 V275.6 H73.5 V279 H74.5 V281.5 H75.8 V284 H77.3 V286.5 H79 V289 H80.5 V291.8 H82.5 V293.2 H85.8 V294.5 H87.8 V297 H89 V300.3 H100.8 V303 H102.2 V306.2 H113.2 V308.5 H238" fill="none" stroke="#b8425f" stroke-width="0.9"/>
<circle cx="67.90" cy="248.00" r="1.35" fill="#8a1238"/>
<circle cx="72.90" cy="275.60" r="1.35" fill="#8a1238"/>
<circle cx="111.90" cy="306.20" r="1.35" fill="#8a1238"/>
<circle cx="113.00" cy="306.20" r="1.35" fill="#8a1238"/>
<circle cx="139.30" cy="308.50" r="1.35" fill="#8a1238"/>
<circle cx="142.60" cy="308.50" r="1.35" fill="#8a1238"/>
<circle cx="165.00" cy="308.50" r="1.35" fill="#8a1238"/>
<circle cx="190.80" cy="308.50" r="1.35" fill="#8a1238"/>
<circle cx="238.00" cy="308.50" r="1.35" fill="#8a1238"/>
<text x="257.90" y="218.80" font-size="11.2" fill="#111" font-weight="bold">D</text>
<line x1="318.60" y1="225.00" x2="318.60" y2="334.90" stroke="#2a2a2a" stroke-width="1.25"/>
<line x1="318.00" y1="334.30" x2="512.50" y2="334.30" stroke="#2a2a2a" stroke-width="1.25"/>
<line x1="315.60" y1="332.30" x2="318.60" y2="332.30" stroke="#2a2a2a" stroke-width="1.0"/>
<text x="313.00" y="334.50" font-size="6.4" fill="#383838" stroke="#383838" stroke-width="0.1" text-anchor="end" textLength="8.00" lengthAdjust="spacingAndGlyphs">0%</text>
<line x1="317.00" y1="327.35" x2="318.60" y2="327.35" stroke="#2a2a2a" stroke-width="1.0"/>
<line x1="315.60" y1="322.39" x2="318.60" y2="322.39" stroke="#2a2a2a" stroke-width="1.0"/>
<text x="313.00" y="324.59" font-size="6.4" fill="#383838" stroke="#383838" stroke-width="0.1" text-anchor="end" textLength="11.80" lengthAdjust="spacingAndGlyphs">10%</text>
<line x1="317.00" y1="317.44" x2="318.60" y2="317.44" stroke="#2a2a2a" stroke-width="1.0"/>
<line x1="315.60" y1="312.48" x2="318.60" y2="312.48" stroke="#2a2a2a" stroke-width="1.0"/>
<text x="313.00" y="314.68" font-size="6.4" fill="#383838" stroke="#383838" stroke-width="0.1" text-anchor="end" textLength="11.80" lengthAdjust="spacingAndGlyphs">20%</text>
<line x1="317.00" y1="307.52" x2="318.60" y2="307.52" stroke="#2a2a2a" stroke-width="1.0"/>
<line x1="315.60" y1="302.57" x2="318.60" y2="302.57" stroke="#2a2a2a" stroke-width="1.0"/>
<text x="313.00" y="304.77" font-size="6.4" fill="#383838" stroke="#383838" stroke-width="0.1" text-anchor="end" textLength="11.80" lengthAdjust="spacingAndGlyphs">30%</text>
<line x1="317.00" y1="297.62" x2="318.60" y2="297.62" stroke="#2a2a2a" stroke-width="1.0"/>
<line x1="315.60" y1="292.66" x2="318.60" y2="292.66" stroke="#2a2a2a" stroke-width="1.0"/>
<text x="313.00" y="294.86" font-size="6.4" fill="#383838" stroke="#383838" stroke-width="0.1" text-anchor="end" textLength="11.80" lengthAdjust="spacingAndGlyphs">40%</text>
<line x1="317.00" y1="287.70" x2="318.60" y2="287.70" stroke="#2a2a2a" stroke-width="1.0"/>
<line x1="315.60" y1="282.75" x2="318.60" y2="282.75" stroke="#2a2a2a" stroke-width="1.0"/>
<text x="313.00" y="284.95" font-size="6.4" fill="#383838" stroke="#383838" stroke-width="0.1" text-anchor="end" textLength="11.80" lengthAdjust="spacingAndGlyphs">50%</text>
<line x1="317.00" y1="277.80" x2="318.60" y2="277.80" stroke="#2a2a2a" stroke-width="1.0"/>
<line x1="315.60" y1="272.84" x2="318.60" y2="272.84" stroke="#2a2a2a" stroke-width="1.0"/>
<text x="313.00" y="275.04" font-size="6.4" fill="#383838" stroke="#383838" stroke-width="0.1" text-anchor="end" textLength="11.80" lengthAdjust="spacingAndGlyphs">60%</text>
<line x1="317.00" y1="267.88" x2="318.60" y2="267.88" stroke="#2a2a2a" stroke-width="1.0"/>
<line x1="315.60" y1="262.93" x2="318.60" y2="262.93" stroke="#2a2a2a" stroke-width="1.0"/>
<text x="313.00" y="265.13" font-size="6.4" fill="#383838" stroke="#383838" stroke-width="0.1" text-anchor="end" textLength="11.80" lengthAdjust="spacingAndGlyphs">70%</text>
<line x1="317.00" y1="257.98" x2="318.60" y2="257.98" stroke="#2a2a2a" stroke-width="1.0"/>
<line x1="315.60" y1="253.02" x2="318.60" y2="253.02" stroke="#2a2a2a" stroke-width="1.0"/>
<text x="313.00" y="255.22" font-size="6.4" fill="#383838" stroke="#383838" stroke-width="0.1" text-anchor="end" textLength="11.80" lengthAdjust="spacingAndGlyphs">80%</text>
<line x1="317.00" y1="248.06" x2="318.60" y2="248.06" stroke="#2a2a2a" stroke-width="1.0"/>
<line x1="315.60" y1="243.11" x2="318.60" y2="243.11" stroke="#2a2a2a" stroke-width="1.0"/>
<text x="313.00" y="245.31" font-size="6.4" fill="#383838" stroke="#383838" stroke-width="0.1" text-anchor="end" textLength="11.80" lengthAdjust="spacingAndGlyphs">90%</text>
<line x1="317.00" y1="238.15" x2="318.60" y2="238.15" stroke="#2a2a2a" stroke-width="1.0"/>
<line x1="315.60" y1="233.20" x2="318.60" y2="233.20" stroke="#2a2a2a" stroke-width="1.0"/>
<text x="313.00" y="235.40" font-size="6.4" fill="#383838" stroke="#383838" stroke-width="0.1" text-anchor="end" textLength="15.00" lengthAdjust="spacingAndGlyphs">100%</text>
<line x1="322.80" y1="334.30" x2="322.80" y2="336.90" stroke="#2a2a2a" stroke-width="1.0"/>
<text x="322.80" y="346.00" font-size="6.7" fill="#383838" stroke="#383838" stroke-width="0.1" text-anchor="middle">0</text>
<line x1="336.05" y1="334.30" x2="336.05" y2="336.90" stroke="#2a2a2a" stroke-width="1.0"/>
<text x="336.05" y="346.00" font-size="6.7" fill="#383838" stroke="#383838" stroke-width="0.1" text-anchor="middle">3</text>
<line x1="349.29" y1="334.30" x2="349.29" y2="336.90" stroke="#2a2a2a" stroke-width="1.0"/>
<text x="349.29" y="346.00" font-size="6.7" fill="#383838" stroke="#383838" stroke-width="0.1" text-anchor="middle">6</text>
<line x1="362.54" y1="334.30" x2="362.54" y2="336.90" stroke="#2a2a2a" stroke-width="1.0"/>
<text x="362.54" y="346.00" font-size="6.7" fill="#383838" stroke="#383838" stroke-width="0.1" text-anchor="middle">9</text>
<line x1="375.78" y1="334.30" x2="375.78" y2="336.90" stroke="#2a2a2a" stroke-width="1.0"/>
<text x="375.78" y="346.00" font-size="6.7" fill="#383838" stroke="#383838" stroke-width="0.1" text-anchor="middle">12</text>
<line x1="389.02" y1="334.30" x2="389.02" y2="336.90" stroke="#2a2a2a" stroke-width="1.0"/>
<text x="389.02" y="346.00" font-size="6.7" fill="#383838" stroke="#383838" stroke-width="0.1" text-anchor="middle">15</text>
<line x1="402.27" y1="334.30" x2="402.27" y2="336.90" stroke="#2a2a2a" stroke-width="1.0"/>
<text x="402.27" y="346.00" font-size="6.7" fill="#383838" stroke="#383838" stroke-width="0.1" text-anchor="middle">18</text>
<line x1="415.51" y1="334.30" x2="415.51" y2="336.90" stroke="#2a2a2a" stroke-width="1.0"/>
<text x="415.51" y="346.00" font-size="6.7" fill="#383838" stroke="#383838" stroke-width="0.1" text-anchor="middle">21</text>
<line x1="428.76" y1="334.30" x2="428.76" y2="336.90" stroke="#2a2a2a" stroke-width="1.0"/>
<text x="428.76" y="346.00" font-size="6.7" fill="#383838" stroke="#383838" stroke-width="0.1" text-anchor="middle">24</text>
<line x1="442.00" y1="334.30" x2="442.00" y2="336.90" stroke="#2a2a2a" stroke-width="1.0"/>
<text x="442.00" y="346.00" font-size="6.7" fill="#383838" stroke="#383838" stroke-width="0.1" text-anchor="middle">27</text>
<line x1="455.25" y1="334.30" x2="455.25" y2="336.90" stroke="#2a2a2a" stroke-width="1.0"/>
<text x="455.25" y="346.00" font-size="6.7" fill="#383838" stroke="#383838" stroke-width="0.1" text-anchor="middle">30</text>
<line x1="468.50" y1="334.30" x2="468.50" y2="336.90" stroke="#2a2a2a" stroke-width="1.0"/>
<text x="468.50" y="346.00" font-size="6.7" fill="#383838" stroke="#383838" stroke-width="0.1" text-anchor="middle">33</text>
<line x1="481.74" y1="334.30" x2="481.74" y2="336.90" stroke="#2a2a2a" stroke-width="1.0"/>
<text x="481.74" y="346.00" font-size="6.7" fill="#383838" stroke="#383838" stroke-width="0.1" text-anchor="middle">36</text>
<line x1="494.99" y1="334.30" x2="494.99" y2="336.90" stroke="#2a2a2a" stroke-width="1.0"/>
<text x="494.99" y="346.00" font-size="6.7" fill="#383838" stroke="#383838" stroke-width="0.1" text-anchor="middle">39</text>
<line x1="508.23" y1="334.30" x2="508.23" y2="336.90" stroke="#2a2a2a" stroke-width="1.0"/>
<text x="508.23" y="346.00" font-size="6.7" fill="#383838" stroke="#383838" stroke-width="0.1" text-anchor="middle">42</text>
<text x="394.60" y="357.60" font-size="8.2" fill="#383838" stroke="#383838" stroke-width="0.12" textLength="43.00" lengthAdjust="spacingAndGlyphs">Time (months)</text>
<text x="291.40" y="279.65" font-size="8.8" fill="#383838" stroke="#383838" stroke-width="0.1" text-anchor="middle" textLength="44.10" lengthAdjust="spacingAndGlyphs" transform="rotate(-90 291.40 279.65)">Overall survival</text>
<line x1="419.50" y1="230.75" x2="433.75" y2="230.75" stroke="#b8425f" stroke-width="1.0"/>
<text x="437.00" y="232.70" font-size="6.0" fill="#383838" stroke="#383838" stroke-width="0.1" textLength="73.75" lengthAdjust="spacingAndGlyphs">All infused patients (N = 52)</text>
<text x="322.00" y="307.70" font-size="6.5" fill="#383838" stroke="#383838" stroke-width="0.1" textLength="61.60" lengthAdjust="spacingAndGlyphs">Number of Events (n):</text>
<text x="322.00" y="314.90" font-size="6.5" fill="#383838" stroke="#383838" stroke-width="0.1" textLength="54.20" lengthAdjust="spacingAndGlyphs">All infused patients</text>
<text x="322.00" y="322.30" font-size="6.5" fill="#383838" stroke="#383838" stroke-width="0.1" textLength="48.50" lengthAdjust="spacingAndGlyphs">Median (95% CI):</text>
<text x="322.00" y="329.80" font-size="6.5" fill="#383838" stroke="#383838" stroke-width="0.1" textLength="56.00" lengthAdjust="spacingAndGlyphs">All infused patients:</text>
<text x="418.80" y="314.90" font-size="6.5" fill="#383838" stroke="#383838" stroke-width="0.1" text-anchor="end">26</text>
<text x="383.60" y="329.80" font-size="6.5" fill="#383838" stroke="#383838" stroke-width="0.1" textLength="38.40" lengthAdjust="spacingAndGlyphs">13.8 (7.2, NE)</text>
<text x="318.90" y="369.00" font-size="6.5" fill="#383838" stroke="#383838" stroke-width="0.1" textLength="43.75" lengthAdjust="spacingAndGlyphs">Subjects at Risk</text>
<text x="313.60" y="378.30" font-size="6.5" fill="#383838" stroke="#383838" stroke-width="0.1" text-anchor="end" textLength="29.50" lengthAdjust="spacingAndGlyphs">All infused</text>
<text x="313.60" y="385.30" font-size="6.5" fill="#383838" stroke="#383838" stroke-width="0.1" text-anchor="end" textLength="48.40" lengthAdjust="spacingAndGlyphs">patients (N = 52)</text>
<text x="322.80" y="382.10" font-size="6.4" fill="#a8345a" stroke="#a8345a" stroke-width="0.18" text-anchor="middle" textLength="6.90" lengthAdjust="spacingAndGlyphs">52</text>
<text x="336.05" y="382.10" font-size="6.4" fill="#a8345a" stroke="#a8345a" stroke-width="0.18" text-anchor="middle" textLength="6.90" lengthAdjust="spacingAndGlyphs">40</text>
<text x="349.29" y="382.10" font-size="6.4" fill="#a8345a" stroke="#a8345a" stroke-width="0.18" text-anchor="middle" textLength="6.90" lengthAdjust="spacingAndGlyphs">33</text>
<text x="362.54" y="382.10" font-size="6.4" fill="#a8345a" stroke="#a8345a" stroke-width="0.18" text-anchor="middle" textLength="6.90" lengthAdjust="spacingAndGlyphs">26</text>
<text x="375.78" y="382.10" font-size="6.4" fill="#a8345a" stroke="#a8345a" stroke-width="0.18" text-anchor="middle" textLength="6.90" lengthAdjust="spacingAndGlyphs">21</text>
<text x="389.02" y="382.10" font-size="6.4" fill="#a8345a" stroke="#a8345a" stroke-width="0.18" text-anchor="middle" textLength="6.90" lengthAdjust="spacingAndGlyphs">16</text>
<text x="402.27" y="382.10" font-size="6.4" fill="#a8345a" stroke="#a8345a" stroke-width="0.18" text-anchor="middle" textLength="6.90" lengthAdjust="spacingAndGlyphs">13</text>
<text x="415.51" y="382.10" font-size="6.4" fill="#a8345a" stroke="#a8345a" stroke-width="0.18" text-anchor="middle" textLength="3.50" lengthAdjust="spacingAndGlyphs">7</text>
<text x="428.76" y="382.10" font-size="6.4" fill="#a8345a" stroke="#a8345a" stroke-width="0.18" text-anchor="middle" textLength="3.50" lengthAdjust="spacingAndGlyphs">6</text>
<text x="442.00" y="382.10" font-size="6.4" fill="#a8345a" stroke="#a8345a" stroke-width="0.18" text-anchor="middle" textLength="3.50" lengthAdjust="spacingAndGlyphs">4</text>
<text x="455.25" y="382.10" font-size="6.4" fill="#a8345a" stroke="#a8345a" stroke-width="0.18" text-anchor="middle" textLength="3.50" lengthAdjust="spacingAndGlyphs">4</text>
<text x="468.50" y="382.10" font-size="6.4" fill="#a8345a" stroke="#a8345a" stroke-width="0.18" text-anchor="middle" textLength="3.50" lengthAdjust="spacingAndGlyphs">4</text>
<text x="481.74" y="382.10" font-size="6.4" fill="#a8345a" stroke="#a8345a" stroke-width="0.18" text-anchor="middle" textLength="3.50" lengthAdjust="spacingAndGlyphs">3</text>
<text x="494.99" y="382.10" font-size="6.4" fill="#a8345a" stroke="#a8345a" stroke-width="0.18" text-anchor="middle" textLength="3.50" lengthAdjust="spacingAndGlyphs">1</text>
<text x="508.23" y="382.10" font-size="6.4" fill="#a8345a" stroke="#a8345a" stroke-width="0.18" text-anchor="middle" textLength="3.50" lengthAdjust="spacingAndGlyphs">0</text>
<path d="M323.5,233.2 L325,234.5 L327.1,237.5 L330,242.5 L331.9,245.2 H333.5 L334.1,250.6 L336,252.9 L338.7,255 L341.6,256.9 L344.4,259.4 L346,260.6 H350 L351.9,263.1 L352.7,267.2 L354,269.4 H361.2 L365,279.4 H378.1 V282.2 H383.7 V284.1 H400.6 V287.5 H411.9 V293.1 H507" fill="none" stroke="#b8425f" stroke-width="0.9"/>
<circle cx="327.10" cy="237.50" r="1.35" fill="#8a1238"/>
<circle cx="336.00" cy="252.90" r="1.35" fill="#8a1238"/>
<circle cx="341.60" cy="256.90" r="1.35" fill="#8a1238"/>
<circle cx="347.60" cy="260.60" r="1.35" fill="#8a1238"/>
<circle cx="349.40" cy="260.60" r="1.35" fill="#8a1238"/>
<circle cx="351.20" cy="262.00" r="1.35" fill="#8a1238"/>
<circle cx="373.50" cy="279.40" r="1.35" fill="#8a1238"/>
<circle cx="385.60" cy="284.10" r="1.35" fill="#8a1238"/>
<circle cx="388.00" cy="284.10" r="1.35" fill="#8a1238"/>
<circle cx="390.60" cy="284.10" r="1.35" fill="#8a1238"/>
<circle cx="398.10" cy="284.10" r="1.35" fill="#8a1238"/>
<circle cx="403.10" cy="287.50" r="1.35" fill="#8a1238"/>
<circle cx="405.60" cy="287.50" r="1.35" fill="#8a1238"/>
<circle cx="421.80" cy="293.10" r="1.35" fill="#8a1238"/>
<circle cx="429.30" cy="293.10" r="1.35" fill="#8a1238"/>
<circle cx="478.80" cy="293.10" r="1.35" fill="#8a1238"/>
<circle cx="482.60" cy="293.10" r="1.35" fill="#8a1238"/>
<circle cx="484.50" cy="293.10" r="1.35" fill="#8a1238"/>
<circle cx="506.80" cy="293.10" r="1.35" fill="#8a1238"/>
<rect x="0.5" y="0.5" width="519" height="393" fill="none" stroke="#5e5e5e" stroke-width="1"/>
</svg>
</body></html>
